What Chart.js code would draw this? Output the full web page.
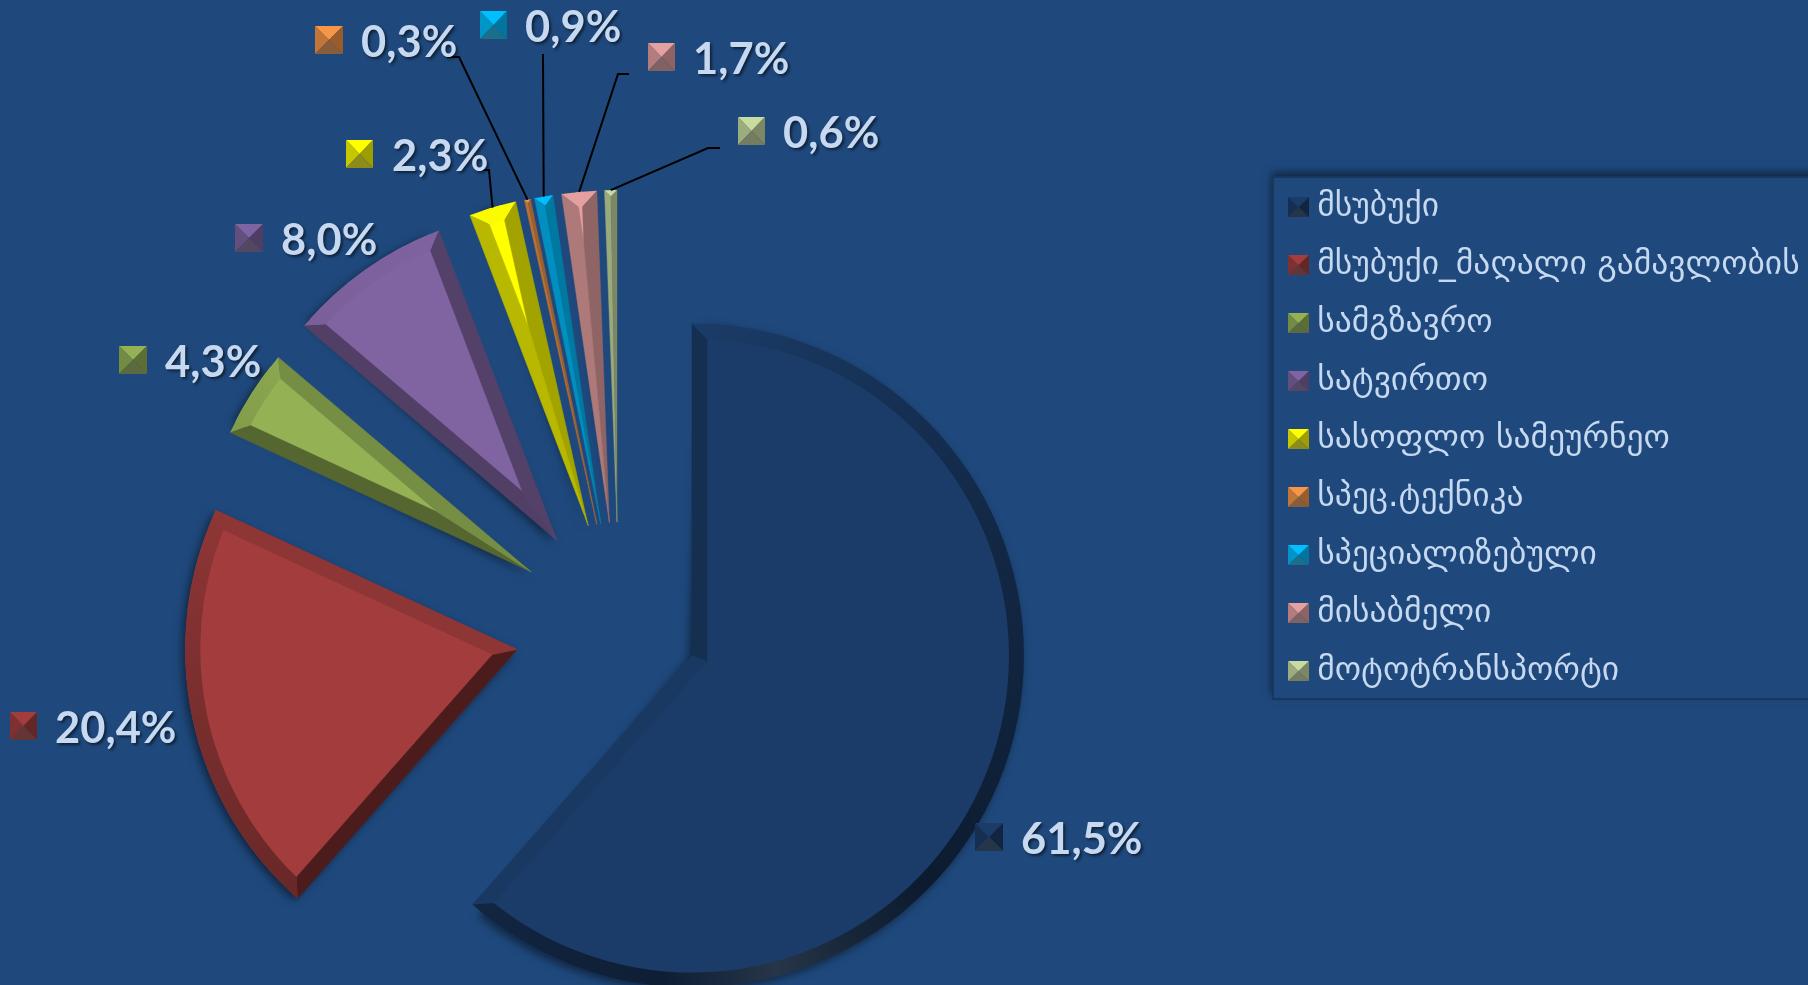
<!DOCTYPE html>
<html>
<head>
<meta charset="utf-8">
<style>
html,body{margin:0;padding:0;background:#1F497D;overflow:hidden}
#wrap{position:absolute;left:0;top:0;width:1808px;height:985px}
</style>
<script src="https://cdn.jsdelivr.net/npm/chart.js@4"></script>
</head>
<body>
<div id="wrap"><canvas id="c" width="1808" height="985"></canvas></div>
<script>
const categories = ["მსუბუქი","მსუბუქი_მაღალი გამავლობის","სამგზავრო","სატვირთო","სასოფლო სამეურნეო","სპეც.ტექნიკა","სპეციალიზებული","მისაბმელი","მოტოტრანსპორტი"];
const values = [61.5,20.4,4.3,8.0,2.3,0.3,0.9,1.7,0.6];
const colors = ["#1B3C68","#A33D3D","#94B254","#8064A2","#FFFF00","#F79646","#00BFFF","#E6A0A0","#C8DCA0"];
const explode = [78,104,104,107,107,106,106,106,106];
const labelLeft = [1021,55,165,281,392,361,525,693,783];
const labelMid  = [839,728,362,240,156,42,27,59,133];
const swatchLeft = [975,10,119,235,346,315,480,648,738];
const swatchWide = [28,27,28,28,27,28,27,27,27];
const elbowFrom = [null,null,null,null,[478,170],[447,57],[543,54],[629,74],[720,148]];
const elbowMid  = [null,null,null,null,[489,170],[459,57],[543,54],[618,74],[708,148]];
const pieRadius = 332, bevel = 15;

const shadeStops = [[0,.62,0],[45,.45,0],[60,.44,.04],[75,.45,.10],[95,.5,0],[135,.65,0],[180,.78,0],[225,.96,0],[270,1,0],[295,.87,0],[340,.65,0],[360,.62,0]];
function rgb(hex){return [1,3,5].map(i=>parseInt(hex.substr(i,2),16));}
function shade(hex,deg){
  deg=((deg%360)+360)%360;
  let a=shadeStops[0],b=shadeStops[1];
  for(let i=0;i<shadeStops.length-1;i++){ if(deg>=shadeStops[i][0]&&deg<=shadeStops[i+1][0]){a=shadeStops[i];b=shadeStops[i+1];break;} }
  const t=(deg-a[0])/(b[0]-a[0]), k=a[1]+(b[1]-a[1])*t, w=a[2]+(b[2]-a[2])*t;
  const c=rgb(hex).map(v=>Math.round(Math.min(255,v*k+255*w)));
  return `rgb(${c[0]},${c[1]},${c[2]})`;
}
function pyramid(ctx,x,y,w,h,hex){
  const cx=x+w/2,cy=y+h/2;
  const tri=(p,q,f)=>{ctx.beginPath();ctx.moveTo(cx,cy);ctx.lineTo(p[0],p[1]);ctx.lineTo(q[0],q[1]);ctx.closePath();ctx.fillStyle=f;ctx.fill();};
  tri([x,y],[x+w,y],shade(hex,270));
  tri([x,y],[x,y+h],shade(hex,180));
  tri([x+w,y],[x+w,y+h],shade(hex,0));
  tri([x,y+h],[x+w,y+h],shade(hex,75));
}
function swatchCanvas(hex){
  const cv=document.createElement('canvas');cv.width=21;cv.height=20;
  pyramid(cv.getContext('2d'),0,0,21,20,hex);return cv;
}
function geometry(el,i){
  const mid=(el.startAngle+el.endAngle)/2;
  return {x:el.x+Math.cos(mid)*explode[i],y:el.y+Math.sin(mid)*explode[i],s:el.startAngle,e:el.endAngle,mid};
}
function poly(ctx,pts,fill){
  ctx.beginPath();pts.forEach((p,i)=>i?ctx.lineTo(p[0],p[1]):ctx.moveTo(p[0],p[1]));ctx.closePath();
  ctx.fillStyle=fill;ctx.strokeStyle=fill;ctx.lineWidth=.4;ctx.fill();ctx.stroke();
}
function drawBevel(ctx,el,i){
  const g=geometry(el,i),hex=colors[i],R=pieRadius,h=(g.e-g.s)/2;
  const at=(a,r)=>[g.x+Math.cos(a)*r,g.y+Math.sin(a)*r];
  const A=at(g.s,R),B=at(g.e,R);
  const delta=Math.asin(bevel/(R-bevel));
  const deg=r=>r*180/Math.PI;
  const conic=ctx.createConicGradient(0,g.x,g.y);
  shadeStops.forEach(s=>conic.addColorStop(s[0]/360,shade(hex,s[0])));
  const startFill=shade(hex,deg(g.s)-90), endFill=shade(hex,deg(g.e)+90);
  if(delta*2<g.e-g.s){
    const P=at(g.mid,bevel/Math.sin(h));
    const iA=at(g.s+delta,R-bevel),iB=at(g.e-delta,R-bevel);
    poly(ctx,[[g.x,g.y],A,iA,P],startFill);
    poly(ctx,[[g.x,g.y],B,iB,P],endFill);
    ctx.beginPath();ctx.arc(g.x,g.y,R,g.s,g.e);ctx.lineTo(iB[0],iB[1]);ctx.arc(g.x,g.y,R-bevel,g.e-delta,g.s+delta,true);ctx.closePath();
    ctx.fillStyle=conic;ctx.fill();
  }else{
    const P=at(g.mid,R/(1+Math.sin(h)));
    poly(ctx,[[g.x,g.y],A,P],startFill);
    poly(ctx,[[g.x,g.y],B,P],endFill);
    ctx.beginPath();ctx.arc(g.x,g.y,R,g.s,g.e);ctx.lineTo(P[0],P[1]);ctx.closePath();
    ctx.fillStyle=conic;ctx.fill();
  }
}
const piePlugin={
  id:'bevelPie',
  afterLayout(chart){
    const l=chart.legend, pad=l.options.labels.padding;
    l.left=1296.5-pad;
    l.right=1808;l.width=l.right-l.left;
    l.top=190.5-pad;
    l.bottom=l.top+790;
  },
  beforeDraw(chart){
    const ctx=chart.ctx;
    ctx.save();
    ctx.shadowColor='rgba(0,0,0,.55)';ctx.shadowBlur=9;ctx.shadowOffsetX=-1;ctx.shadowOffsetY=-4;
    ctx.fillStyle='#1F497D';ctx.fillRect(1273,177,600,522);
    ctx.restore();
    ctx.strokeStyle='#17375E';ctx.lineWidth=2;ctx.strokeRect(1273,177,600,522);
  },
  beforeDatasetDraw(chart){
    const meta=chart.getDatasetMeta(0),ctx=chart.ctx;
    meta.data.forEach((el,i)=>{
      const c=el.endAngle-el.startAngle;
      const fix=1-Math.sin(Math.min(Math.PI,c));
      el.outerRadius=pieRadius-explode[i]*fix;
    });
    ctx.save();
    ctx.shadowColor='rgba(0,0,0,.5)';ctx.shadowBlur=10;ctx.shadowOffsetX=-3;ctx.shadowOffsetY=3;
  },
  afterDatasetDraw(chart){
    const meta=chart.getDatasetMeta(0),ctx=chart.ctx;
    ctx.restore();
    ctx.save();
    meta.data.forEach((el,i)=>drawBevel(ctx,el,i));
    ctx.strokeStyle='#000';ctx.lineWidth=2;ctx.lineJoin='miter';
    meta.data.forEach((el,i)=>{
      if(!elbowFrom[i])return;
      const g=geometry(el,i);
      ctx.beginPath();ctx.moveTo(...elbowFrom[i]);ctx.lineTo(...elbowMid[i]);
      ctx.lineTo(g.x+Math.cos(g.mid)*pieRadius,g.y+Math.sin(g.mid)*pieRadius);ctx.stroke();
    });
    ctx.textAlign='left';ctx.textBaseline='alphabetic';
    ctx.font='bold 43.5px Lato';
    values.forEach((v,i)=>{
      pyramid(ctx,swatchLeft[i],labelMid[i]-16,swatchWide[i],28,colors[i]);
      ctx.save();
      ctx.shadowColor='rgba(0,0,0,.55)';ctx.shadowBlur=3;ctx.shadowOffsetX=2;ctx.shadowOffsetY=2;
      ctx.fillStyle='#C6D9F1';
      ctx.fillText(v.toFixed(1).replace('.',',')+'%',labelLeft[i],labelMid[i]+15);
      ctx.restore();
    });
    ctx.restore();
  }
};
new Chart(document.getElementById('c'),{
  type:'pie',
  data:{labels:categories,datasets:[{data:values,backgroundColor:colors,borderWidth:0,offset:explode.map(v=>v*4),clip:false}]},
  options:{
    responsive:false,animation:false,rotation:0,radius:pieRadius,
    layout:{padding:{left:0,top:271,right:570,bottom:0}},
    plugins:{
      tooltip:{enabled:false},
      legend:{
        position:'chartArea',align:'start',
        labels:{
          color:'#C6D9F1',font:{family:"'DejaVu Sans'",size:33.5},
          usePointStyle:true,pointStyleWidth:4,padding:24.5,
          generateLabels(chart){
            return Chart.overrides.doughnut.plugins.legend.labels.generateLabels(chart).map((it,i)=>({...it,pointStyle:swatchCanvas(colors[i])}));
          }
        }
      }
    }
  },
  plugins:[piePlugin]
});
</script>
</body>
</html>
